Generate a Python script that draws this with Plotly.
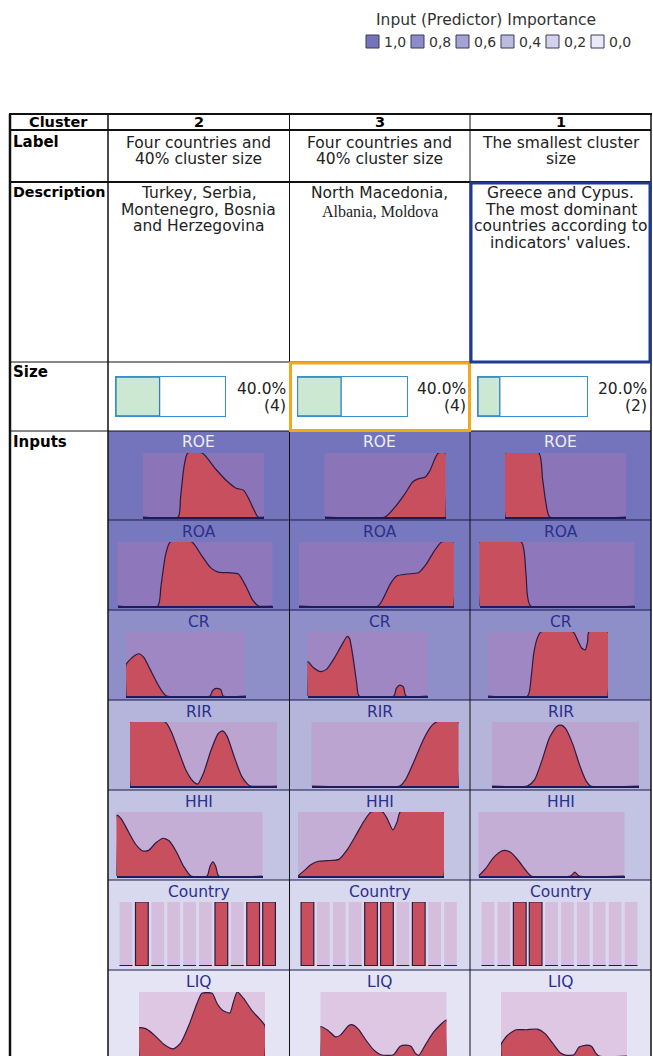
import plotly.graph_objects as go

W, H = 653, 1056

# ---------------- data ----------------
cluster_ids = ["2", "3", "1"]
cluster_labels = [["Four countries and", "40% cluster size"],
                  ["Four countries and", "40% cluster size"],
                  ["The smallest cluster", "size"]]
cluster_desc = [["Turkey, Serbia,", "Montenegro, Bosnia", "and Herzegovina"],
                ["North Macedonia,", "Albania, Moldova"],
                ["Greece and Cypus.", "The most dominant", "countries according to", "indicators' values."]]
size_pct = [40.0, 40.0, 20.0]
size_n = [4, 4, 2]

inputs = ["ROE", "ROA", "CR", "RIR", "HHI", "Country", "LIQ"]
importance = [1.0, 0.97, 0.78, 0.45, 0.33, 0.15, 0.05]
legend_vals = [1.0, 0.8, 0.6, 0.4, 0.2, 0.0]
legend_labels = ["1,0", "0,8", "0,6", "0,4", "0,2", "0,0"]

# relative density profiles (x: position on variable range 0-100, y: relative density 0-1)
roe_c2_x = [0, 29, 31, 34, 37, 49, 60, 70, 77, 83, 87, 92, 95, 100]
roe_c2_y = [0, 0, 0.3, 0.8, 1.0, 1.0, 0.75, 0.55, 0.45, 0.42, 0.3, 0.1, 0, 0]
roe_c3_x = [0, 50, 58, 66, 73, 78, 83, 87, 91, 94, 100, 100]
roe_c3_y = [0, 0, 0.15, 0.35, 0.55, 0.6, 0.62, 0.72, 0.9, 1.0, 1.0, 0]
roe_c1_x = [0, 0, 28, 31, 34, 37, 100]
roe_c1_y = [0, 1, 1, 0.6, 0.2, 0, 0]

roa_c2_x = [0, 26, 28, 31, 34, 48, 54, 60, 65, 72, 78, 83, 87, 91, 100]
roa_c2_y = [0, 0, 0.3, 0.8, 1, 1, 0.8, 0.6, 0.53, 0.52, 0.5, 0.3, 0.1, 0, 0]
roa_c3_x = [0, 51, 55, 59, 63, 70, 77, 82, 87, 92, 100, 100]
roa_c3_y = [0, 0, 0.15, 0.35, 0.47, 0.5, 0.52, 0.65, 0.85, 1, 1, 0]
roa_c1_x = [0, 0, 27, 30, 33, 100]
roa_c1_y = [0, 1, 1, 0.5, 0, 0]

cr_c2_x = [0, 0, 4, 8, 11, 15, 20, 26, 31, 34, 70, 72, 75, 79, 81, 100]
cr_c2_y = [0, 0.49, 0.58, 0.64, 0.66, 0.6, 0.42, 0.2, 0.05, 0, 0, 0.08, 0.12, 0.1, 0, 0]
cr_c3_x = [0, 0, 5, 11, 16, 22, 28, 33, 35, 38, 41, 43, 72, 74, 77, 80, 82, 100]
cr_c3_y = [0, 0.54, 0.44, 0.38, 0.42, 0.58, 0.78, 0.93, 0.9, 0.6, 0.2, 0, 0, 0.12, 0.17, 0.14, 0, 0]
cr_c1_x = [0, 33, 36, 38, 41, 44, 71, 74, 78, 81, 83, 84, 100, 100]
cr_c1_y = [0, 0, 0.3, 0.65, 0.9, 1, 1, 0.9, 0.75, 0.72, 0.85, 1, 1, 0]

rir_c2_x = [0, 0, 24, 28, 33, 38, 43, 46, 50, 55, 60, 63, 66, 71, 76, 80, 82, 100]
rir_c2_y = [0, 1, 1, 0.85, 0.55, 0.25, 0.07, 0.03, 0.2, 0.55, 0.82, 0.86, 0.78, 0.45, 0.15, 0.03, 0, 0]
rir_c3_x = [0, 60, 64, 70, 76, 81, 85, 100, 100]
rir_c3_y = [0, 0, 0.1, 0.4, 0.72, 0.92, 1, 1, 0]
rir_c1_x = [0, 24, 29, 34, 39, 44, 47, 50, 55, 60, 64, 67, 100]
rir_c1_y = [0, 0, 0.1, 0.4, 0.75, 0.93, 0.95, 0.9, 0.65, 0.3, 0.08, 0, 0]

hhi_c2_x = [0, 0, 3, 8, 13, 18, 22, 27, 32, 36, 41, 46, 51, 62, 64, 66, 68, 70, 100]
hhi_c2_y = [0, 0.95, 0.9, 0.7, 0.5, 0.39, 0.4, 0.52, 0.59, 0.55, 0.38, 0.15, 0, 0, 0.15, 0.22, 0.15, 0, 0]
hhi_c3_x = [0, 4, 9, 14, 20, 28, 34, 40, 45, 50, 58, 61, 65, 68, 70, 100, 100]
hhi_c3_y = [0, 0.08, 0.18, 0.23, 0.24, 0.26, 0.42, 0.65, 0.85, 1, 1, 0.9, 0.72, 0.85, 1, 1, 0]
hhi_c1_x = [0, 5, 10, 15, 18, 22, 27, 32, 36, 63, 66, 69, 100]
hhi_c1_y = [0, 0.12, 0.28, 0.38, 0.4, 0.37, 0.25, 0.1, 0, 0, 0.06, 0, 0]

country_c2 = [0, 1, 0, 0, 0, 0, 1, 0, 1, 1]
country_c3 = [1, 0, 0, 0, 1, 1, 0, 1, 0, 0]
country_c1 = [0, 0, 1, 1, 0, 0, 0, 0, 0, 0]

liq_c2_x = [0, 0, 6, 12, 20, 27, 33, 40, 46, 50, 58, 62, 66, 72, 75, 78, 83, 90, 100, 100]
liq_c2_y = [0, 0.44, 0.42, 0.33, 0.18, 0.11, 0.2, 0.5, 0.82, 0.98, 0.98, 0.82, 0.72, 0.67, 0.85, 1.0, 0.9, 0.7, 0.47, 0]
liq_c3_x = [0, 0, 6, 12, 16, 22, 25, 30, 36, 42, 48, 58, 63, 68, 72, 75, 78, 84, 90, 100, 100]
liq_c3_y = [0, 0.46, 0.4, 0.3, 0.33, 0.47, 0.49, 0.42, 0.25, 0.1, 0.02, 0.02, 0.15, 0.17, 0.15, 0.05, 0.01, 0.2, 0.38, 0.56, 0]
liq_c1_x = [0, 0, 5, 12, 20, 29, 35, 41, 47, 52, 58, 62, 68, 72, 75, 78, 100]
liq_c1_y = [0, 0.18, 0.32, 0.41, 0.41, 0.42, 0.35, 0.2, 0.05, 0.01, 0.02, 0.14, 0.17, 0.15, 0.05, 0, 0]

profiles = {
    "ROE": [(roe_c2_x, roe_c2_y), (roe_c3_x, roe_c3_y), (roe_c1_x, roe_c1_y)],
    "ROA": [(roa_c2_x, roa_c2_y), (roa_c3_x, roa_c3_y), (roa_c1_x, roa_c1_y)],
    "CR": [(cr_c2_x, cr_c2_y), (cr_c3_x, cr_c3_y), (cr_c1_x, cr_c1_y)],
    "RIR": [(rir_c2_x, rir_c2_y), (rir_c3_x, rir_c3_y), (rir_c1_x, rir_c1_y)],
    "HHI": [(hhi_c2_x, hhi_c2_y), (hhi_c3_x, hhi_c3_y), (hhi_c1_x, hhi_c1_y)],
    "Country": [country_c2, country_c3, country_c1],
    "LIQ": [(liq_c2_x, liq_c2_y), (liq_c3_x, liq_c3_y), (liq_c1_x, liq_c1_y)],
}

# ---------------- layout geometry / style ----------------
FONT = "DejaVu Sans"
RED = "#C84F5E"
OUTLINE = "#2A1B45"
BASE = "#1B1B5E"
PINK = "rgba(205,115,175,0.26)"
TXT = "#222222"
LABEL_BLUE = "#2B2F8C"

col_edges = [108, 289.5, 470, 651]
row_tops = [431, 520, 610, 700, 790, 880, 970]
inner = {"ROE": (35, 121), "ROA": (9.5, 155), "CR": (18, 120), "RIR": (22, 147),
         "HHI": (8.5, 146), "Country": (10, 159), "LIQ": (31, 126)}


def imp_color(v):
    lo = (234, 234, 247)
    hi = (116, 116, 188)
    c = [round(lo[i] + v * (hi[i] - lo[i])) for i in range(3)]
    return "rgb(%d,%d,%d)" % tuple(c)


fig = go.Figure()
shapes, annotations = [], []
layout_axes = {}
count = [0]


def px(x):
    return x / W


def py(y):
    return 1 - y / H


def new_axes(x0, x1, ytop, ybot, xr, yr, baseline=False, frame=None):
    count[0] += 1
    k = count[0]
    s = "" if k == 1 else str(k)
    xa = dict(domain=[px(x0), px(x1)], range=xr, fixedrange=True, anchor="y" + s,
              showgrid=False, zeroline=False, showticklabels=False, ticks="")
    ya = dict(domain=[py(ybot), py(ytop)], range=yr, fixedrange=True, anchor="x" + s,
              showgrid=False, zeroline=False, showticklabels=False, ticks="")
    if baseline:
        xa.update(visible=True, showline=True, linecolor=BASE, linewidth=1.6)
        ya.update(visible=False)
    elif frame:
        xa.update(visible=True, showline=True, mirror=True, linecolor=frame, linewidth=1.3)
        ya.update(visible=True, showline=True, mirror=True, linecolor=frame, linewidth=1.3)
    else:
        xa.update(visible=False)
        ya.update(visible=False)
    layout_axes["xaxis" + s] = xa
    layout_axes["yaxis" + s] = ya
    return "x" + s, "y" + s


def text(x, y, s, size=15, color=TXT, bold=False, xanchor="center", family=FONT):
    annotations.append(dict(x=px(x), y=py(y), xref="paper", yref="paper", text=s,
                            showarrow=False, xanchor=xanchor, yanchor="middle",
                            font=dict(family=family, size=size, color=color,
                                      weight="bold" if bold else "normal")))


def rect(x0, y0, x1, y1, fill=None, line=None, lw=1, layer="below"):
    shapes.append(dict(type="rect", xref="paper", yref="paper", x0=px(x0), x1=px(x1),
                       y0=py(y1), y1=py(y0), fillcolor=fill or "rgba(0,0,0,0)",
                       line=dict(color=line or "rgba(0,0,0,0)", width=lw if line else 0),
                       layer=layer))


def hline(y, x0, x1, color="#111", w=1):
    shapes.append(dict(type="line", xref="paper", yref="paper", x0=px(x0), x1=px(x1),
                       y0=py(y), y1=py(y), line=dict(color=color, width=w), layer="above"))


def vline(x, y0, y1, color="#111", w=1):
    shapes.append(dict(type="line", xref="paper", yref="paper", x0=px(x), x1=px(x),
                       y0=py(y0), y1=py(y1), line=dict(color=color, width=w), layer="above"))


# ---------------- legend ----------------
text(486, 20, "Input (Predictor) Importance", size=15.5, color="#333333")
for i, (v, lab) in enumerate(zip(legend_vals, legend_labels)):
    x0 = 366 + 45 * i
    rect(x0, 35, x0 + 13, 48, fill=imp_color(v), line="#3A3A5A", lw=1)
    text(x0 + 16, 42, lab, size=14, color="#333333", xanchor="left")

# ---------------- header rows ----------------
centers = [(col_edges[i] + col_edges[i + 1]) / 2 for i in range(3)]
text(59, 122, "Cluster", size=14.5, bold=True, color="#000")
for c, cid in enumerate(cluster_ids):
    text(centers[c], 122, cid, size=14.5, bold=True, color="#000")

text(11, 142, "Label", size=15, bold=True, color="#000", xanchor="left")
for c, lines in enumerate(cluster_labels):
    for j, ln in enumerate(lines):
        text(centers[c], 143 + 15.5 * j, ln, size=15.5)

text(11, 192, "Description", size=14.3, bold=True, color="#000", xanchor="left")
for c, lines in enumerate(cluster_desc):
    for j, ln in enumerate(lines):
        if c == 1 and j == 1:
            text(centers[c], 193 + 19 * j, ln, size=16, family="Liberation Serif")
        else:
            text(centers[c], 193 + 16.6 * j, ln, size=15.5)

# ---------------- size row ----------------
text(11, 372, "Size", size=15, bold=True, color="#000", xanchor="left")
for c in range(3):
    x0 = col_edges[c] + 8
    xa, ya = new_axes(x0, x0 + 109, 377, 416, [0, 100], [-0.5, 0.5], frame="#3A8DC9")
    fig.add_trace(go.Bar(x=[size_pct[c]], y=[0], orientation="h", width=1, xaxis=xa, yaxis=ya,
                         marker=dict(color="#CDE8D2", line=dict(color="#2F7FBF", width=1.3)),
                         hoverinfo="skip", showlegend=False))
    text(col_edges[c + 1] - 2, 389, "%.1f%%" % size_pct[c], size=15.5, xanchor="right")
    text(col_edges[c + 1] - 2, 406, "(%d)" % size_n[c], size=15.5, xanchor="right")

# ---------------- inputs ----------------
text(11, 442, "Inputs", size=15, bold=True, color="#000", xanchor="left")
for r, name in enumerate(inputs):
    top = row_tops[r]
    bottom = row_tops[r + 1] if r + 1 < len(row_tops) else top + 92
    pad, wid = inner[name]
    for c in range(3):
        cx0, cx1 = col_edges[c], col_edges[c + 1]
        rect(cx0, top, cx1, bottom, fill=imp_color(importance[r]))
        text(centers[c], top + 11.5, name, size=15.5,
             color="#EEEEF6" if name == "ROE" else LABEL_BLUE)
        ix0 = cx0 + pad
        ix1 = ix0 + wid
        ytop, ybot = top + 22, top + 86
        if name == "Country":
            member = profiles[name][c]
            slots = list(range(len(member)))
            xa, ya = new_axes(ix0, ix1, ytop, ybot, [-0.5, len(member) - 0.5], [0, 1])
            fig.add_trace(go.Bar(x=slots, y=[1] * len(slots), width=0.8, xaxis=xa, yaxis=ya,
                                 marker=dict(color=PINK, line=dict(width=0)),
                                 hoverinfo="skip", showlegend=False))
            bx, by = [], []
            for i in slots:
                bx += [i - 0.4, i + 0.4, None]
                by += [0, 0, None]
            fig.add_trace(go.Scatter(x=bx, y=by, mode="lines", xaxis=xa, yaxis=ya,
                                     line=dict(color=BASE, width=2), hoverinfo="skip",
                                     showlegend=False, cliponaxis=False))
            fig.add_trace(go.Bar(x=slots, y=member, width=0.8, xaxis=xa, yaxis=ya,
                                 marker=dict(color=RED, line=dict(color=OUTLINE, width=1.2)),
                                 hoverinfo="skip", showlegend=False))
        else:
            rect(ix0, ytop, ix1, ybot, fill=PINK)
            xs, ys = profiles[name][c]
            xa, ya = new_axes(ix0, ix1, ytop, ybot, [0, 100], [0, 1], baseline=True)
            fig.add_trace(go.Scatter(x=xs, y=ys, mode="lines", xaxis=xa, yaxis=ya,
                                     fill="tozeroy", fillcolor=RED,
                                     line=dict(color=OUTLINE, width=1.2, shape="spline", smoothing=0.6),
                                     hoverinfo="skip", showlegend=False))

# ---------------- table grid ----------------
GRID = "#1A1A4A"
for y in row_tops[1:]:
    hline(y, col_edges[0], col_edges[3], color=GRID, w=1)
hline(114, 9, 652, w=2)
hline(130, 10, 651, w=2)
hline(182, 10, 651, w=2)
hline(362, 10, 651, w=1)
hline(431, 10, 651, w=1)
vline(10, 114, 1056, w=2.5)
vline(651, 114, 1056, w=1.5)
vline(108, 114, 1056, w=1.5)
vline(289.5, 114, 1056, w=1)
vline(470, 114, 1056, w=1)

# highlight boxes
rect(290.5, 363, 469.5, 430.5, line="#F2A81D", lw=3, layer="above")
rect(471, 183, 650, 362, line="#1F3A8F", lw=3, layer="above")

fig.update_layout(width=W, height=H, margin=dict(l=0, r=0, t=0, b=0),
                  paper_bgcolor="white", plot_bgcolor="rgba(0,0,0,0)",
                  barmode="overlay", showlegend=False,
                  shapes=shapes, annotations=annotations, **layout_axes)

fig.write_html("out.html", config={"displayModeBar": False},
               post_script="document.body.style.margin='0px';")
